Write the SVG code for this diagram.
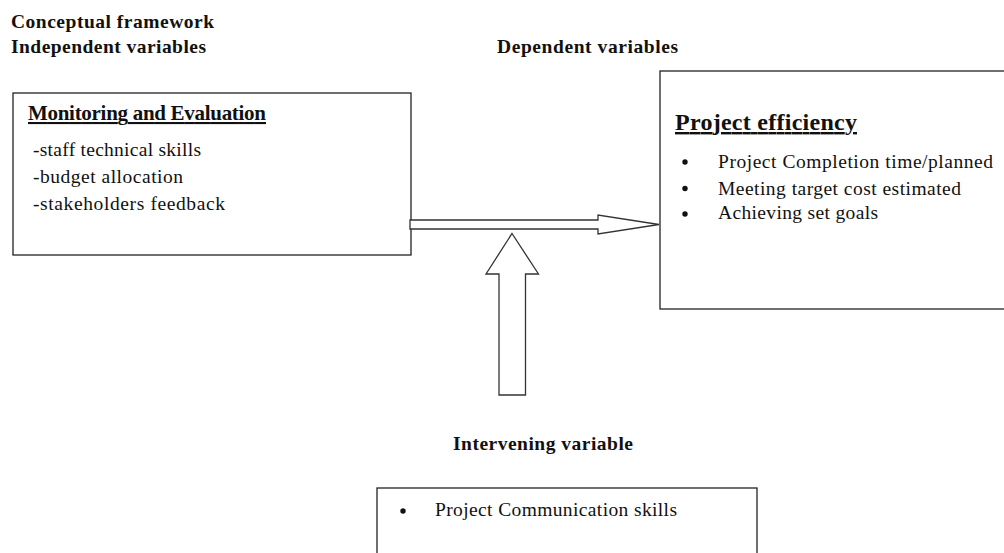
<svg xmlns="http://www.w3.org/2000/svg" width="1004" height="553" viewBox="0 0 1004 553">
<style>
text{font-family:"Liberation Serif","Times New Roman",serif;fill:#111}
.h{font-weight:bold;font-size:19.5px}
.t{font-size:19.5px}
.box{fill:#fff;stroke:#222;stroke-width:1.3}
.arr{fill:#fff;stroke:#333;stroke-width:1.3;stroke-linejoin:miter}
</style>
<rect width="1004" height="553" fill="#fff"/>
<g id="headings">
<text class="h" x="11" y="28" textLength="203" lengthAdjust="spacing">Conceptual framework</text>
<text class="h" x="11" y="53" textLength="195" lengthAdjust="spacing">Independent variables</text>
<text class="h" x="497" y="53" textLength="181" lengthAdjust="spacing">Dependent variables</text>
<text class="h" x="453" y="450" textLength="180" lengthAdjust="spacing">Intervening variable</text>
</g>
<g id="independent">
<rect class="box" x="13" y="93" width="398" height="162"/>
<text class="h" x="28" y="120" style="font-size:21px" text-decoration="underline" textLength="238" lengthAdjust="spacing">Monitoring and Evaluation</text>
<text class="t" x="33" y="156" textLength="168" lengthAdjust="spacing">-staff technical skills</text>
<text class="t" x="33" y="183" textLength="150" lengthAdjust="spacing">-budget allocation</text>
<text class="t" x="33" y="210" textLength="192" lengthAdjust="spacing">-stakeholders feedback</text>
</g>
<g id="dependent">
<rect class="box" x="660" y="71" width="350" height="238"/>
<text class="h" x="675" y="130" style="font-size:24px" text-decoration="underline" textLength="182" lengthAdjust="spacing">Project efficiency</text>
<circle cx="685" cy="162" r="2.7" fill="#111"/>
<circle cx="685" cy="188.5" r="2.7" fill="#111"/>
<circle cx="685" cy="214" r="2.7" fill="#111"/>
<text class="t" x="718" y="168" textLength="275" lengthAdjust="spacing">Project Completion time/planned</text>
<text class="t" x="718" y="195" textLength="243" lengthAdjust="spacing">Meeting target cost estimated</text>
<text class="t" x="718" y="219" textLength="160" lengthAdjust="spacing">Achieving set goals</text>
</g>
<g id="intervening">
<rect class="box" x="377" y="488" width="380" height="80"/>
<circle cx="403" cy="511" r="2.7" fill="#111"/>
<text class="t" x="435" y="516" textLength="242" lengthAdjust="spacing">Project Communication skills</text>
</g>
<g id="connectors">
<path class="arr" d="M410,220 L598,220 L598,215 L659,224.5 L598,234 L598,229 L410,229 Z"/>
<path class="arr" d="M512,233.5 L538.5,274 L525.5,274 L525.5,395 L499,395 L499,274 L486,274 Z"/>
</g>
</svg>
